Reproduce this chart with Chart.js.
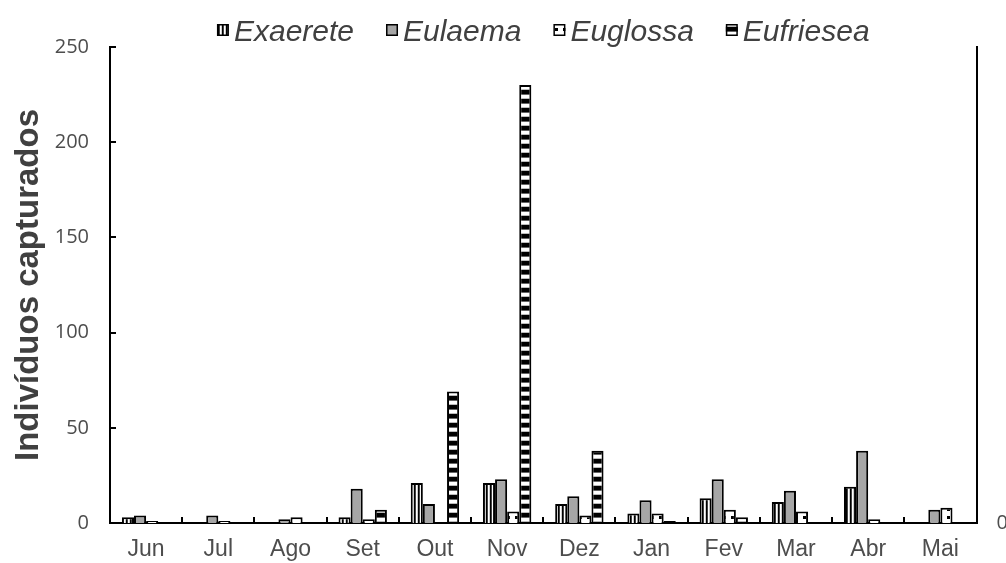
<!DOCTYPE html>
<html>
<head>
<meta charset="utf-8">
<script src="https://cdn.jsdelivr.net/npm/chart.js@4.4.1/dist/chart.umd.min.js"></script>
<style>
  html, body { margin: 0; padding: 0; background: #fff; }
  #wrap { width: 1006px; height: 563px; position: relative; }
</style>
</head>
<body>
<div id="wrap"><canvas id="c" width="1006" height="563"></canvas></div>
<script>
// Monthly captures per genus
const months = ['Jun', 'Jul', 'Ago', 'Set', 'Out', 'Nov', 'Dez', 'Jan', 'Fev', 'Mar', 'Abr', 'Mai'];
const exaerete  = [3, 0, 0, 3, 21, 21, 10, 5, 13, 11, 19, 0];
const eulaema   = [4, 4, 2, 18, 10, 23, 14, 12, 23, 17, 38, 7];
const euglossa  = [1, 1, 3, 2, 0, 6, 4, 5, 7, 6, 2, 8];
const eufriesea = [0, 0, 0, 7, 69, 230, 38, 1, 3, 0, 0, 0];
const seriesNames = ['Exaerete', 'Eulaema', 'Euglossa', 'Eufriesea'];
const yTicks = [0, 50, 100, 150, 200, 250];
const y2Ticks = [0];

const canvas = document.getElementById('c');
const mainCtx = canvas.getContext('2d');

// Small tiles used as bar fills
function tile(w, h, paint) {
  const t = document.createElement('canvas');
  t.width = w; t.height = h;
  const g = t.getContext('2d');
  g.fillStyle = '#fff';
  g.fillRect(0, 0, w, h);
  paint(g);
  return mainCtx.createPattern(t, 'repeat');
}
const vStripes = tile(4, 1, g => {
  g.fillStyle = '#000'; g.fillRect(2, 0, 1, 1);
  g.fillStyle = '#444'; g.fillRect(3, 0, 1, 1);
  g.fillStyle = '#ccc'; g.fillRect(1, 0, 1, 1);
});
const hStripes = tile(1, 9, g => {
  g.fillStyle = '#000'; g.fillRect(0, 0, 1, 4);
  g.fillStyle = '#666'; g.fillRect(0, 4, 1, 1);
  g.fillStyle = '#bbb'; g.fillRect(0, 8, 1, 1);
});
const dots = tile(8, 8, g => {
  g.fillStyle = '#000'; g.fillRect(3, 4, 3, 3);
});

const fills = [vStripes, '#a6a6a6', dots, hStripes];
const values = [exaerete, eulaema, euglossa, eufriesea];

// Short tick marks drawn on the inner side of the axes
const innerTicks = {
  id: 'innerTicks',
  afterDraw(chart) {
    const ctx = chart.ctx;
    const xs = chart.scales.x, ys = chart.scales.y;
    const area = chart.chartArea;
    ctx.save();
    ctx.strokeStyle = '#000';
    ctx.lineWidth = 2;
    ctx.beginPath();
    const n = xs.ticks.length;
    for (let i = 1; i < n; i++) {
      const px = Math.round((xs.getPixelForTick(i - 1) + xs.getPixelForTick(i)) / 2);
      ctx.moveTo(px, area.bottom);
      ctx.lineTo(px, area.bottom - 6);
    }
    ys.ticks.forEach(t => {
      if (t.value === 0) return;
      const py = Math.round(ys.getPixelForValue(t.value));
      ctx.moveTo(area.left, py);
      ctx.lineTo(area.left + 6, py);
    });
    ctx.stroke();
    ctx.restore();
  }
};

// Legend row above the plot, centred on the plot area
const topLegend = {
  id: 'topLegend',
  afterDraw(chart) {
    const ctx = chart.ctx;
    ctx.save();
    ctx.font = 'italic 30px "Liberation Sans", Arial, sans-serif';
    const box = 12, gap = 5, spacing = 32;
    const items = chart.data.datasets.map(d => ({
      label: d.label, fill: d.backgroundColor, w: ctx.measureText(d.label).width
    }));
    const total = items.reduce((s, it) => s + box + gap + it.w, 0) + spacing * (items.length - 1);
    let x = (chart.chartArea.left + chart.chartArea.right) / 2 - total / 2;
    const boxTop = 24, baseline = 41;
    items.forEach(it => {
      ctx.fillStyle = it.fill;
      ctx.fillRect(x, boxTop, box, box);
      ctx.strokeStyle = '#000';
      ctx.lineWidth = 1.5;
      ctx.strokeRect(x + 0.75, boxTop + 0.75, box - 1.5, box - 1.5);
      ctx.fillStyle = '#404040';
      ctx.textBaseline = 'alphabetic';
      ctx.fillText(it.label, x + box + gap, baseline);
      x += box + gap + it.w + spacing;
    });
    ctx.restore();
  }
};

const tickFont = { family: '"Open Sans", sans-serif', size: 20 };

new Chart(canvas, {
  type: 'bar',
  data: {
    labels: months,
    datasets: seriesNames.map((name, i) => ({
      label: name,
      data: values[i],
      backgroundColor: fills[i],
      borderColor: '#000',
      borderWidth: 2,
      borderSkipped: 'start',
      categoryPercentage: 0.67,
      barPercentage: 1.0,
      yAxisID: 'y'
    }))
  },
  options: {
    responsive: false,
    animation: false,
    devicePixelRatio: 1,
    layout: { padding: { top: 47, left: 0, right: 0, bottom: 0 } },
    plugins: { legend: { display: false }, tooltip: { enabled: false } },
    scales: {
      x: {
        type: 'category',
        offset: true,
        grid: { display: false, drawTicks: false },
        border: { display: true, color: '#000', width: 2 },
        ticks: { font: { family: '"Liberation Sans", Arial, sans-serif', size: 23 }, color: '#4d4d4d', padding: 13 },
        afterFit(s) { s.height = 40; }
      },
      y: {
        position: 'left',
        min: 0, max: 250,
        afterBuildTicks(s) { s.ticks = yTicks.map(v => ({ value: v })); },
        grid: { display: false, drawTicks: false },
        border: { display: true, color: '#000', width: 2 },
        ticks: { font: tickFont, color: '#4d4d4d', padding: 21 },
        title: {
          display: true,
          text: 'Indivíduos capturados',
          font: { family: '"Liberation Sans", Arial, sans-serif', size: 33, weight: 'bold' },
          color: '#404040',
          padding: { top: 9, bottom: 0 }
        },
        afterFit(s) { s.width = 110; }
      },
      y2: {
        position: 'right',
        min: 0, max: 1,
        afterBuildTicks(s) { s.ticks = y2Ticks.map(v => ({ value: v })); },
        grid: { display: false, drawTicks: false },
        border: { display: true, color: '#000', width: 2 },
        ticks: { font: tickFont, color: '#4d4d4d', padding: 20 },
        afterFit(s) { s.width = 29.5; }
      }
    }
  },
  plugins: [innerTicks, topLegend]
});
</script>
</body>
</html>
